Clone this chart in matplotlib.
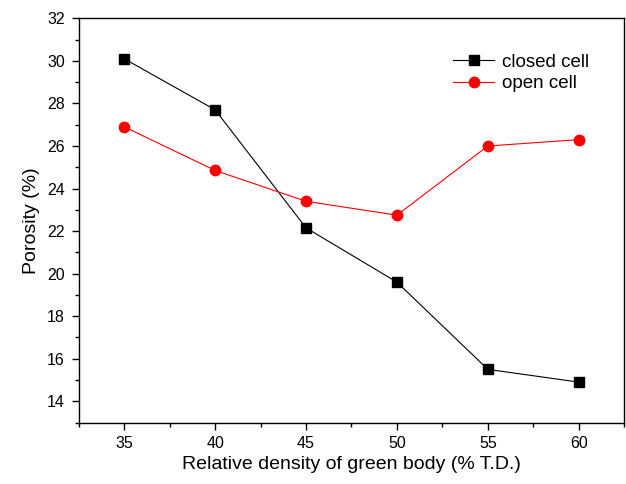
import matplotlib
matplotlib.use("Agg")
import matplotlib.pyplot as plt
from matplotlib.ticker import MultipleLocator

plt.rcParams["font.family"] = ["Liberation Sans", "DejaVu Sans"]

# data
density = [35, 40, 45, 50, 55, 60]
closed_cell = [30.1, 27.7, 22.15, 19.6, 15.5, 14.9]
open_cell = [26.9, 24.85, 23.4, 22.75, 26.0, 26.3]

fig = plt.figure(figsize=(6.26, 4.84), dpi=100)
ax = fig.add_axes([0.126, 0.127, 0.871, 0.835])

ax.plot(density, closed_cell, color="black", lw=0.8, marker="s", ms=6.5,
        label="closed cell")
ax.plot(density, open_cell, color="red", lw=0.8, marker="o", ms=7.5,
        label="open cell")

ax.set_xlim(32.5, 62.5)
ax.set_ylim(13, 32)
ax.xaxis.set_major_locator(MultipleLocator(5))
ax.xaxis.set_minor_locator(MultipleLocator(2.5))
ax.yaxis.set_major_locator(MultipleLocator(2))
ax.yaxis.set_minor_locator(MultipleLocator(1))
ax.tick_params(which="major", direction="out", length=5, width=1,
               labelsize=11.5, pad=5)
ax.tick_params(which="minor", direction="out", length=3, width=1)
for s in ax.spines.values():
    s.set_linewidth(1)

ax.set_xlabel("Relative density of green body (% T.D.)", fontsize=14, labelpad=3)
ax.set_ylabel("Porosity (%)", fontsize=14, labelpad=5)

ax.legend(loc="upper left", bbox_to_anchor=(0.655, 0.955), frameon=False,
          fontsize=13.5, handlelength=2.2, handletextpad=0.4, labelspacing=0.25)

fig.savefig("out.png", dpi=100)
